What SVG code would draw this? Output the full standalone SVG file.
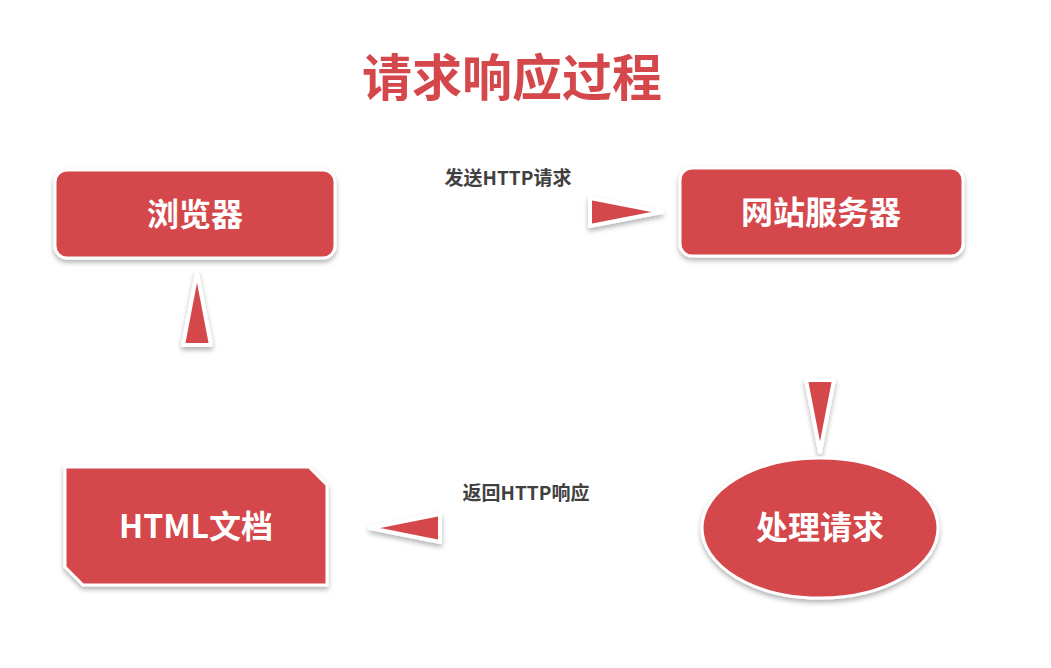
<svg xmlns="http://www.w3.org/2000/svg" width="1051" height="668" viewBox="0 0 1051 668">
<defs>
<filter id="sh" x="-20%" y="-20%" width="140%" height="150%"><feDropShadow dx="0" dy="3" stdDeviation="2.5" flood-color="#000" flood-opacity="0.3"/></filter>
</defs>
<style>
.n{fill:#d4474b;stroke:#fff;stroke-width:3;filter:url(#sh)}
.t{font-family:"Noto Sans CJK SC",sans-serif;font-weight:bold;fill:#fff;font-size:32px;text-anchor:middle}
.l{font-family:"Noto Sans CJK SC",sans-serif;font-weight:bold;fill:#404040;font-size:19px;text-anchor:middle}
.ln{stroke:#fff;stroke-width:6;stroke-linecap:round;filter:url(#sh)}
.hd{fill:#d4474b;stroke:#fff;stroke-width:4;stroke-linejoin:round;filter:url(#sh)}
</style>
<rect width="1051" height="668" fill="#fff"/>
<text x="512" y="96" font-family="Noto Sans CJK SC,sans-serif" font-weight="bold" font-size="50" fill="#d4474b" text-anchor="middle">请求响应过程</text>
<g id="connectors">
<line class="ln" x1="390" y1="212" x2="595" y2="212"/>
<polygon class="hd" points="590,198 662,212 590,226"/>
<text class="l" x="508" y="185">发送HTTP请求</text>
<line class="ln" x1="820" y1="268" x2="820" y2="385"/>
<polygon class="hd" points="806,380 834,380 820,452"/>
<line class="ln" x1="638" y1="528" x2="435" y2="528"/>
<polygon class="hd" points="440,514 440,542 370,528"/>
<text class="l" x="526" y="500">返回HTTP响应</text>
<line class="ln" x1="197" y1="452" x2="197" y2="340"/>
<polygon class="hd" points="183,345 211,345 197,272"/>
</g>
<g id="browser"><rect class="n" x="55" y="170" width="280" height="88" rx="12"/><text class="t" x="195" y="226">浏览器</text></g>
<g id="server"><rect class="n" x="680" y="168" width="283" height="88" rx="12"/><text class="t" x="821" y="224">网站服务器</text></g>
<g id="process"><ellipse class="n" cx="820" cy="528" rx="118" ry="70"/><text class="t" x="820" y="539">处理请求</text></g>
<g id="html"><polygon class="n" points="65,467 309,467 327,485 327,585 83,585 65,567"/><text class="t" x="196" y="538">HTML文档</text></g>
</svg>
